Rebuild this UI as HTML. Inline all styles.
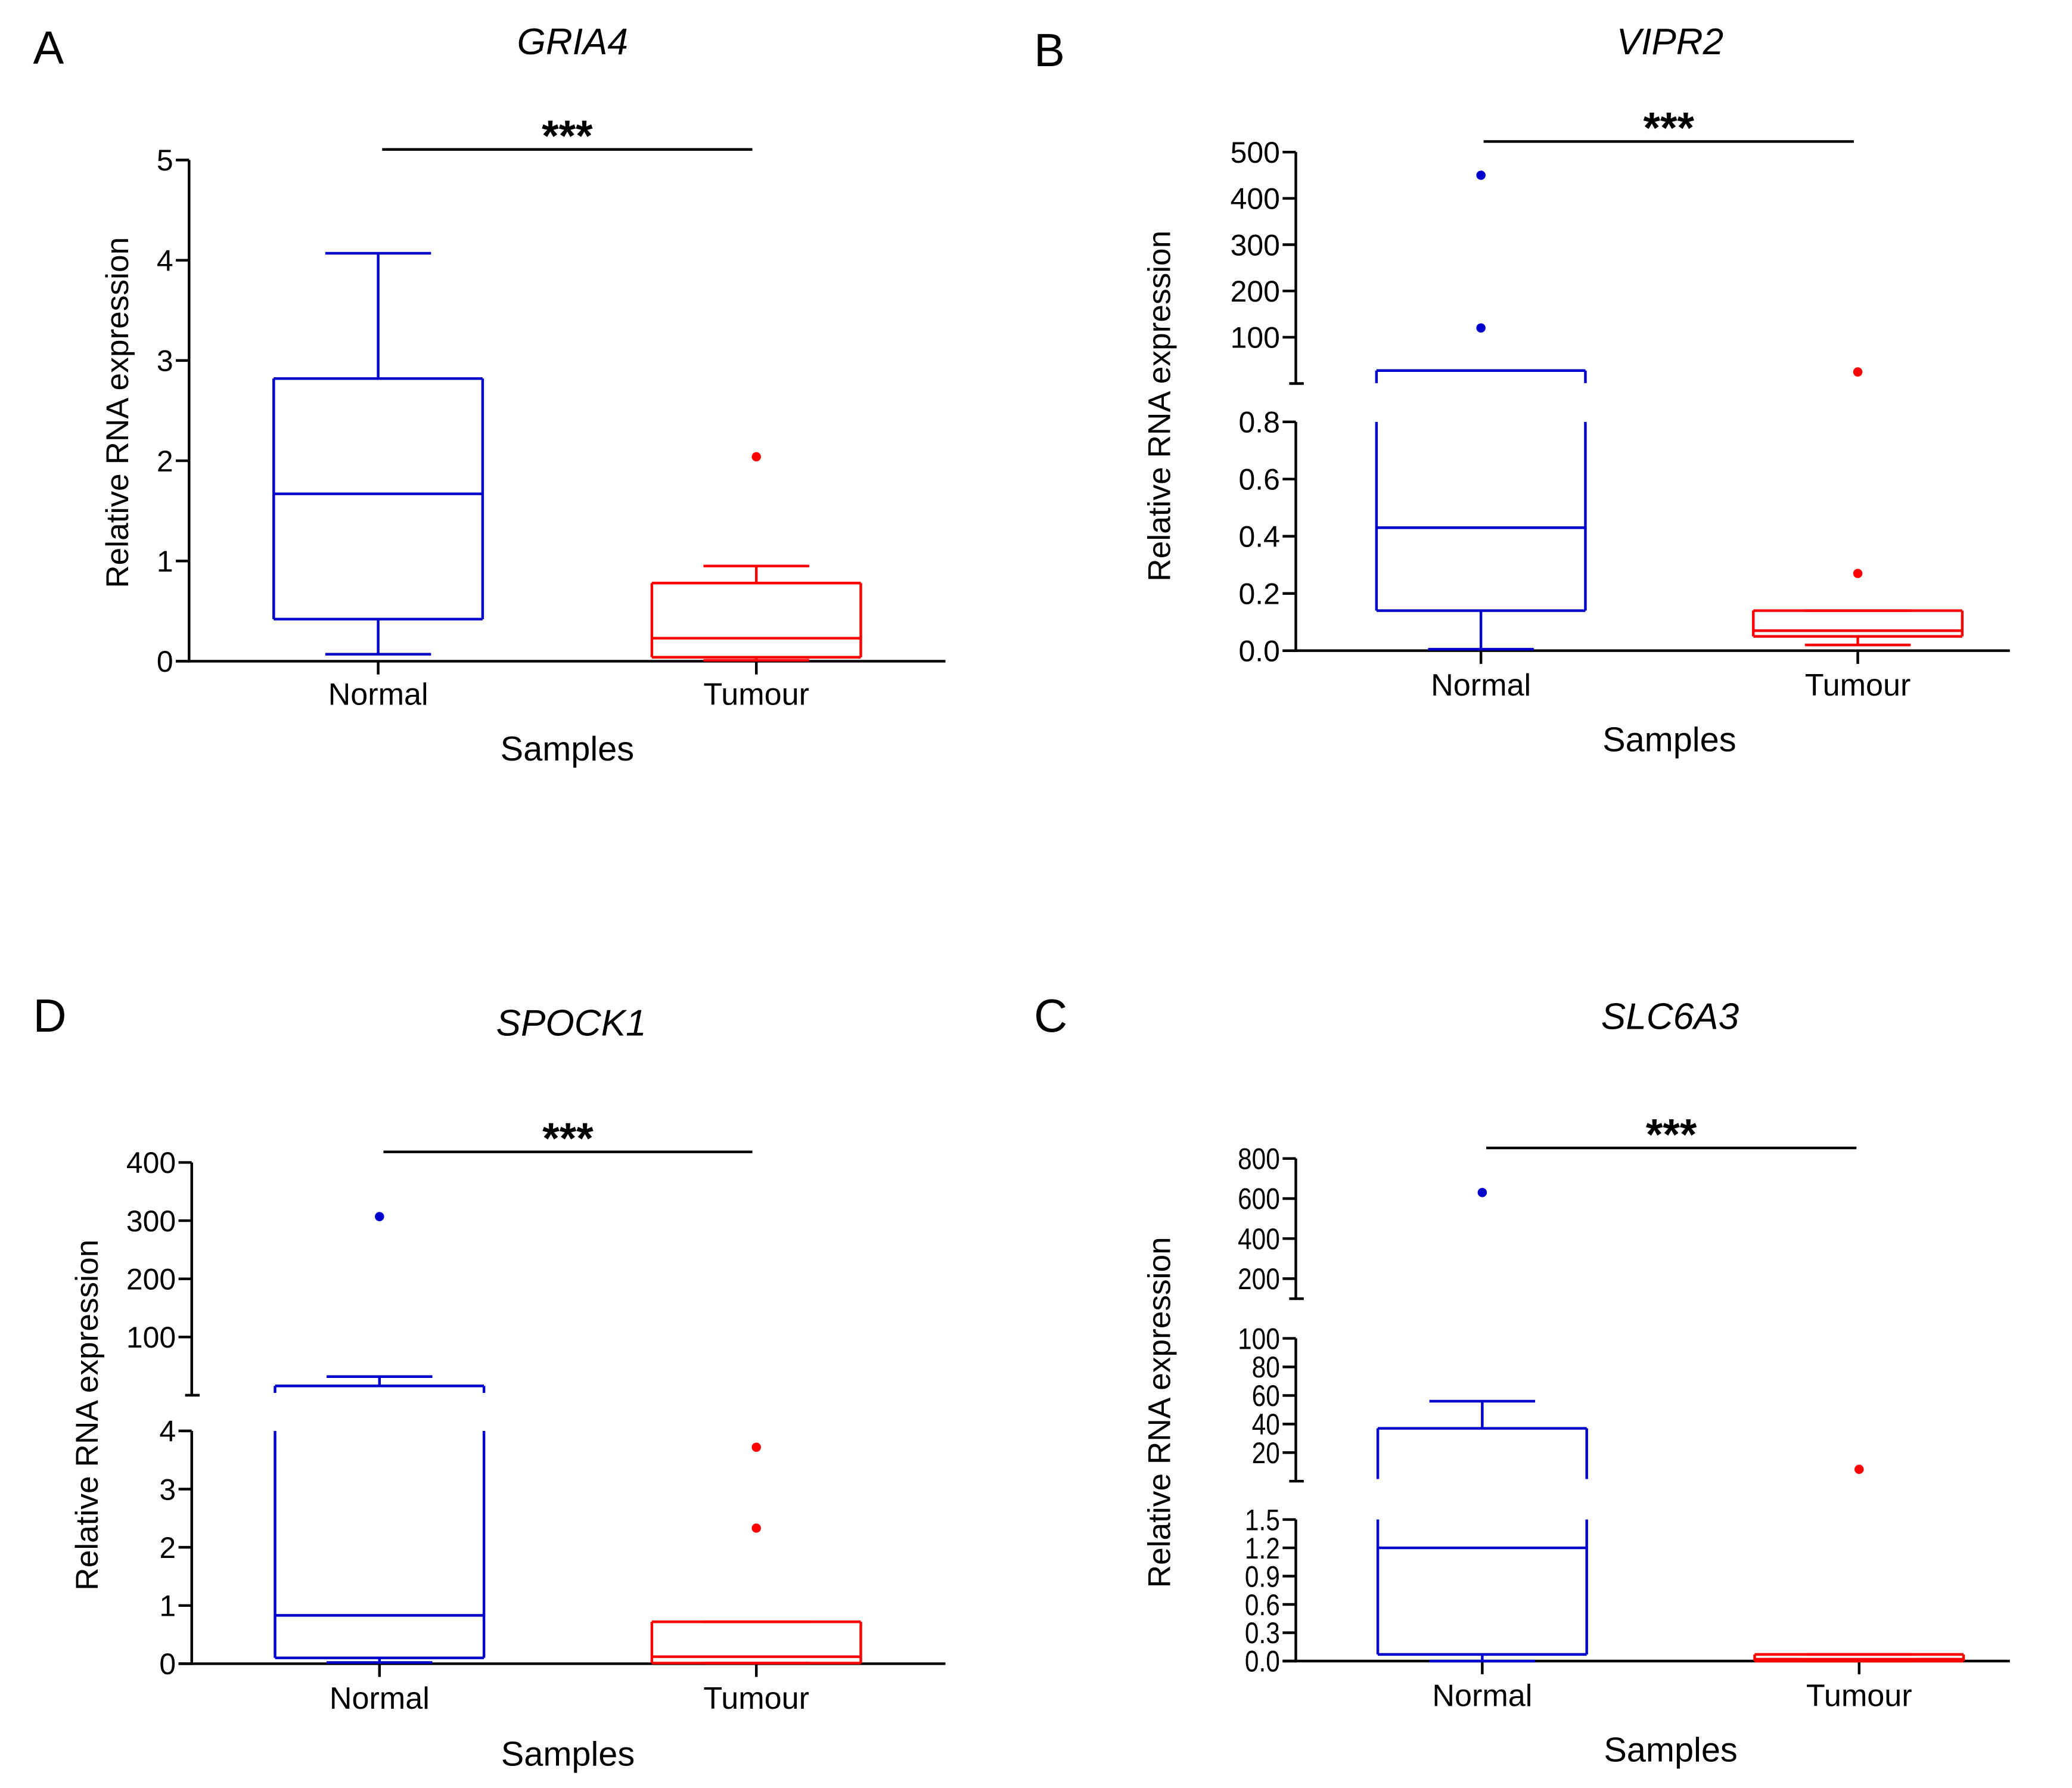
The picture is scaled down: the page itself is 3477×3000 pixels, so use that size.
<!DOCTYPE html>
<html><head><meta charset="utf-8"><style>
html,body{margin:0;padding:0;background:#fff}
svg{display:block}
text{font-family:"Liberation Sans",sans-serif;fill:#000}
</style></head><body>
<svg id="fig" width="3477" height="3000" viewBox="0 0 1567 1352" preserveAspectRatio="none" xmlns="http://www.w3.org/2000/svg"></svg>
<script>
// ---- data ----
const groups = ["Normal","Tumour"];
// [min, q1, median, q3, max]
const gria4Normal = [0.07,0.42,1.67,2.82,4.07];
const gria4Tumour = [0.01,0.04,0.23,0.78,0.95];
const gria4Outliers = [[], [2.04]];
const vipr2Normal = [0.005,0.14,0.43,28,28];
const vipr2Tumour = [0.02,0.05,0.07,0.14,0.14];
const vipr2Outliers = [[450,120],[25,0.27]];
const spock1Normal = [0.02,0.1,0.83,16,32];
const spock1Tumour = [0.01,0.01,0.12,0.72,0.72];
const spock1Outliers = [[307],[3.72,2.33]];
const slcNormal = [0,0.07,1.2,37,56];
const slcTumour = [0,0,0.02,0.07,0.07];
const slcOutliers = [[630],[8.3]];
const gria4Ticks = [0,1,2,3,4,5];
const vipr2TicksLow = ["0.0","0.2","0.4","0.6","0.8"];
const vipr2TicksHigh = [100,200,300,400,500];
const spockTicksLow = [0,1,2,3,4];
const spockTicksHigh = [100,200,300,400];
const slcTicksLow = ["0.0","0.3","0.6","0.9","1.2","1.5"];
const slcTicksMid = [20,40,60,80,100];
const slcTicksHigh = [200,400,600,800];

const NS="http://www.w3.org/2000/svg";
const svg=document.getElementById('fig');
function el(tag,attrs,parent){const e=document.createElementNS(NS,tag);for(const k in attrs)e.setAttribute(k,attrs[k]);(parent||svg).appendChild(e);return e;}
function txt(s,attrs,parent){const t=el('text',attrs,parent);t.textContent=s;return t;}

const panels=[
 {letter:"A",lx:25,ly:48,title:"GRIA4",tx:433,ty:41,ax:143,ay:500,xr:715,nx:286,txx:572,sigY:113,sigX1:289,sigX2:569,
  labY:533,sampY:575,ytX:88,ytY:312,
  segs:[{v0:0,v1:5,y0:500,y1:121,ticks:gria4Ticks}],
  data:[gria4Normal,gria4Tumour],out:gria4Outliers},
 {letter:"B",lx:782,ly:50,title:"VIPR2",tx:1263,ty:41,ax:980,ay:492,xr:1520,nx:1120,txx:1405,sigY:107,sigX1:1122,sigX2:1402,
  labY:526,sampY:568,ytX:876,ytY:307,
  segs:[{v0:0,v1:0.8,y0:492,y1:319,ticks:vipr2TicksLow},{v0:0,v1:500,y0:290,y1:115,ticks:vipr2TicksHigh,breakTick:true}],
  data:[vipr2Normal,vipr2Tumour],out:vipr2Outliers},
 {letter:"D",lx:25,ly:780,title:"SPOCK1",tx:432,ty:783,ax:145,ay:1258,xr:715,nx:287,txx:572,sigY:871,sigX1:290,sigX2:569,
  labY:1292,sampY:1335,ytX:65,ytY:1070,
  segs:[{v0:0,v1:4,y0:1258,y1:1082,ticks:spockTicksLow},{v0:0,v1:400,y0:1055,y1:879,ticks:spockTicksHigh,breakTick:true}],
  data:[spock1Normal,spock1Tumour],out:spock1Outliers},
 {letter:"C",lx:782,ly:780,title:"SLC6A3",tx:1263,ty:778,ax:980,ay:1256,xr:1520,nx:1121,txx:1406,sigY:868,sigX1:1124,sigX2:1404,
  labY:1290,sampY:1332,ytX:876,ytY:1068,
  segs:[{v0:0,v1:1.5,y0:1256,y1:1149,ticks:slcTicksLow,cond:true},{v0:0,v1:100,y0:1120,y1:1012,ticks:slcTicksMid,breakTick:true,cond:true},{v0:100,v1:800,y0:982,y1:876,ticks:slcTicksHigh,breakTick:true,cond:true}],
  data:[slcNormal,slcTumour],out:slcOutliers}
];
const colors=["#0000cc","#ff0000"];

panels.forEach(p=>{
  p.segs.forEach((s,i)=>{s.lo=(i===0)?s.v0:Math.max(s.v0,p.segs[i-1].v1);});
  const g=el('g',{});
  
  
  let t=txt(p.letter,{x:p.lx,y:p.ly,'font-size':35},g);
  
  t=txt(p.title,{x:p.tx,y:p.ty,'font-size':28,'font-style':'italic','text-anchor':'middle'},g);
  
  let l=el('line',{x1:p.sigX1,x2:p.sigX2,y1:p.sigY,y2:p.sigY,stroke:'#000','stroke-width':2},g);
  
  t=txt('***',{x:(p.sigX1+p.sigX2)/2,y:p.sigY+1,'font-size':33,'font-weight':'bold','text-anchor':'middle'},g);
  
  function segFor(v){for(const s of p.segs){if(v>=s.lo&&v<=s.v1)return s;}return null;}
  function Y(s,v){return s.y0+(v-s.v0)/(s.v1-s.v0)*(s.y1-s.y0);}
  function Yc(s,v){return Y(s,Math.max(v,s.v0));}
  const yAxis=el('g',{},g);
  
  p.segs.forEach((s,i)=>{
    el('line',{x1:p.ax,x2:p.ax,y1:s.y0+(i===0?1:0),y2:s.y1,stroke:'#000','stroke-width':2},yAxis);
    if(s.breakTick) el('line',{x1:p.ax-5,x2:p.ax+6,y1:s.y0,y2:s.y0,stroke:'#000','stroke-width':2},yAxis);
    s.ticks.forEach(tk=>{
      const v=parseFloat(tk);const y=Y(s,v);
      el('line',{x1:p.ax-10,x2:p.ax,y1:y,y2:y,stroke:'#000','stroke-width':2},yAxis);
      const attrs={x:p.ax-12,y:y+8,'font-size':22.5,'text-anchor':'end'};
      if(s.cond){attrs['transform']=`translate(${p.ax-12},0) scale(0.85,1) translate(${-(p.ax-12)},0)`;}
      const tl=txt(String(tk),attrs,yAxis);
      
      
    });
  });
  t=txt('Relative RNA expression',{x:0,y:0,'font-size':24,'text-anchor':'middle',transform:`translate(${p.ytX+9},${p.ytY}) rotate(-90)`},g);
  
  const xAxis=el('g',{},g);
  
  el('line',{x1:p.ax-10,x2:p.xr,y1:p.ay,y2:p.ay,stroke:'#000','stroke-width':2},xAxis);
  const xs=[p.nx,p.txx];
  groups.forEach((gname,i)=>{
    el('line',{x1:xs[i],x2:xs[i],y1:p.ay,y2:p.ay+10,stroke:'#000','stroke-width':2},xAxis);
    const tl=txt(gname,{x:xs[i],y:p.labY,'font-size':23.5,'text-anchor':'middle'},xAxis);
    
    
  });
  t=txt('Samples',{x:(p.nx+p.txx)/2,y:p.sampY,'font-size':26,'text-anchor':'middle'},g);
  
  p.data.forEach((d,i)=>{
    const c=colors[i],cx=xs[i],hw=79,cw=40;
    const bg=el('g',{stroke:c,'stroke-width':2,fill:'none'},g);
    
    
    const [mn,q1,md,q3,mx]=d;
    p.segs.forEach(s=>{
      const lo=Math.max(q1,s.lo),hi=Math.min(q3,s.v1);
      if(lo<hi){
        el('line',{x1:cx-hw,x2:cx-hw,y1:Yc(s,lo),y2:Y(s,hi)},bg);
        el('line',{x1:cx+hw,x2:cx+hw,y1:Yc(s,lo),y2:Y(s,hi)},bg);
      }
      const wl=Math.max(q3,s.lo),wh=Math.min(mx,s.v1);
      if(wl<wh) el('line',{x1:cx,x2:cx,y1:Yc(s,wl),y2:Y(s,wh)},bg);
      const ll=Math.max(mn,s.lo),lh=Math.min(q1,s.v1);
      if(ll<lh) el('line',{x1:cx,x2:cx,y1:Yc(s,ll),y2:Y(s,lh)},bg);
    });
    [[q1,hw],[q3,hw],[md,hw],[mn,cw],[mx,cw]].forEach(([v,w])=>{
      const s=segFor(v);if(!s)return;const y=Y(s,v);
      el('line',{x1:cx-w,x2:cx+w,y1:y,y2:y},bg);
    });
    p.out[i].forEach(v=>{
      const s=segFor(v);if(!s)return;
      const o=el('circle',{cx:cx,cy:Y(s,v),r:3.5,fill:c,stroke:'none'},g);
      
      
    });
  });
});
</script>
</body></html>
